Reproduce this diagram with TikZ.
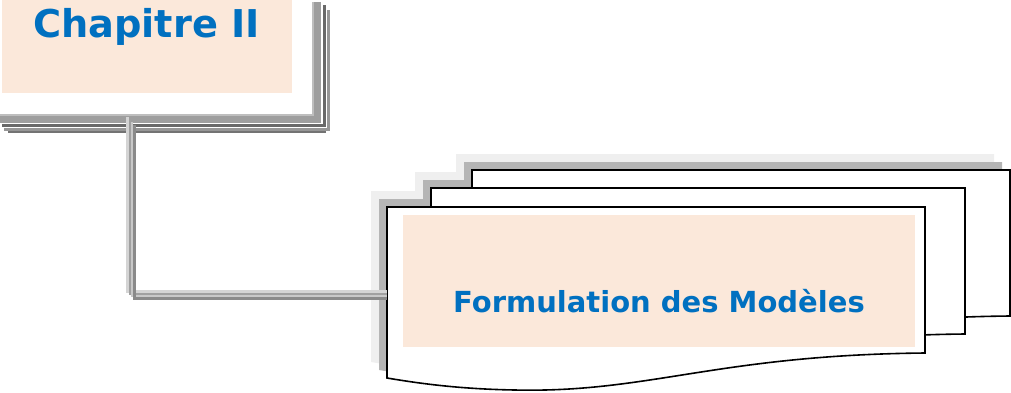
\documentclass[tikz,border=0pt]{standalone}
\usepackage{fontspec}
\setmainfont{DejaVu Sans}
\definecolor{peach}{HTML}{FBE8DA}
\definecolor{titleblue}{HTML}{0070C0}
\definecolor{sheethaze}{HTML}{EFEFEF}
\definecolor{sheetgrey}{HTML}{B5B5B5}

% one sheet of the stacked-document shape: left x, top y, width
\newcommand\pagepath[3]{(#1,#2) -- ({#1+#3},#2) -- ({#1+#3},{#2+146})
  .. controls ({#1+#3-208},{#2+148}) and ({#1+262},{#2+186}) .. ({#1+128},{#2+183})
  .. controls ({#1+70},{#2+182}) and ({#1+30},{#2+176}) .. (#1,{#2+171}) -- cycle}

\begin{document}
\begin{tikzpicture}[x=1pt,y=-1pt,
  panel/.style={fill=peach, draw=none, inner sep=0pt, anchor=north west},
  heading/.style={text=titleblue, font=\bfseries, inner sep=0pt, anchor=base},
  sheet/.style={fill=white, draw=black, line width=1.6pt, line join=miter},
  bar/.style={line width=#1, line join=miter, line cap=butt},
]
\useasboundingbox (0,0) rectangle (1011,392);

% ---- chapter box and its raised frame
\draw[bar=8pt, draw={rgb,255:red,158;green,158;blue,158}] (0,119) -- (317,119) -- (317,2);
\draw[bar=2pt, draw={rgb,255:red,190;green,190;blue,190}] (0,115) -- (313,115) -- (313,2);
\draw[bar=3pt, draw={rgb,255:red,105;green,105;blue,105}] (2,125.5) -- (324.5,125.5) -- (324.5,5);
\draw[bar=3pt, draw={rgb,255:red,150;green,150;blue,150}] (4,129) -- (328,129) -- (328,10);
\draw[bar=2pt, draw={rgb,255:red,115;green,115;blue,115}] (8,132) -- (326,132);

\node[panel, minimum width=290pt, minimum height=93pt] (chap) at (2,0) {};
\node[heading] (chaptitle) at (146.5,37) {\fontsize{38.3}{40}\selectfont Chapitre II};

% ---- stacked sheets: soft shadows first, then the sheets back to front
\begin{scope}[shift={(-16,-16)}]
  \fill[sheethaze] \pagepath{472}{170}{538};
  \fill[sheethaze] \pagepath{431}{188}{534};
  \fill[sheethaze] \pagepath{387}{207}{538};
\end{scope}
\begin{scope}[shift={(-8,-8)}]
  \fill[sheetgrey] \pagepath{472}{170}{538};
  \fill[sheetgrey] \pagepath{431}{188}{534};
  \fill[sheetgrey] \pagepath{387}{207}{538};
\end{scope}
\draw[sheet] \pagepath{472}{170}{538};
\draw[sheet] \pagepath{431}{188}{534};
\draw[sheet] \pagepath{387}{207}{538};

\node[panel, minimum width=512pt, minimum height=132pt] (model) at (403,215) {};
\node[heading] (modeltitle) at (659,312) {\fontsize{29}{32}\selectfont Formulation des Modèles};

% ---- connector from the chapter frame to the front sheet
\coordinate (linkstart) at (131,121);
\coordinate (linkend) at (387,295);
\draw[bar=3pt, draw={rgb,255:red,212;green,212;blue,212}]
  ([shift={(-4,-4)}]linkstart) |- ([shift={(0,-4)}]linkend);
\draw[bar=2pt, draw={rgb,255:red,160;green,160;blue,160}]
  ([shift={(-1.5,-1.5)}]linkstart) |- ([shift={(0,-1.5)}]linkend);
\draw[bar=2pt, draw={rgb,255:red,200;green,200;blue,200}]
  ([shift={(0.5,0.5)}]linkstart) |- ([shift={(0,0.5)}]linkend);
\draw[bar=3.5pt, draw={rgb,255:red,138;green,138;blue,138}]
  ([shift={(3.5,3.5)}]linkstart) |- ([shift={(0,3.5)}]linkend);
\end{tikzpicture}
\end{document}
